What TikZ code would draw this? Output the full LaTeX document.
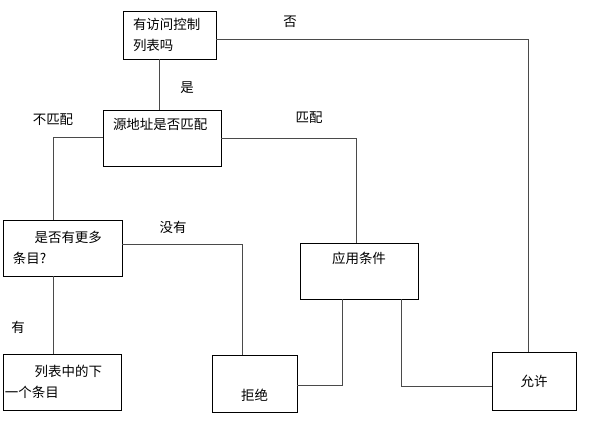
\documentclass[tikz,border=0pt]{standalone}
\usepackage{fontspec}
\setmainfont{Noto Sans CJK SC}
\usetikzlibrary{positioning}
\definecolor{aclInk}{HTML}{000000}
\definecolor{aclWire}{HTML}{4A4A4A}

\begin{document}
\begin{tikzpicture}[
  x=0.03cm,y=-0.03cm,
  font=\fontsize{11.5}{18}\selectfont,
  box/.style={draw=aclInk,line width=0.8pt,inner xsep=0.3cm,inner ysep=0pt,align=left},
  endbox/.style={draw=aclInk,line width=0.8pt,inner sep=0pt,align=center},
  wire/.style={draw=aclWire,line width=0.8pt},
  tag/.style={inner sep=1pt}
]
\useasboundingbox (0,0) rectangle (595,421);

\node[box,text width=2.19cm,minimum height=1.44cm] (acl) at (169.5,35) {有访问控制\\列表吗};
\node[box,text width=2.94cm,minimum height=1.68cm] (src) at (162,138) {源地址是否匹配\\\strut};
\node[box,text width=2.97cm,minimum height=1.68cm] (more) at (62.5,248) {\hspace*{1.6em}是否有更多\\条目?};
\node[box,inner xsep=0.06cm,text width=3.42cm,minimum height=1.68cm] (next) at (62,382) {\hspace*{2.2em}列表中的下\\一个条目};
\node[endbox,minimum width=3.54cm,minimum height=1.68cm] (apply) at (359,271) {应用条件\\\strut};
\node[endbox,minimum width=2.55cm,minimum height=1.71cm] (deny) at (254.5,383.5) {\strut\\拒绝};
\node[endbox,minimum width=2.52cm,minimum height=1.74cm] (permit) at (534,381) {允许};

\node[tag] (no) at (290,22) {否};
\node[tag] (yes) at (187,88) {是};
\node[tag] (nomatch) at (53,120) {不匹配};
\node[tag] (match) at (309,118) {匹配};
\node[tag] (none) at (173,227) {没有};
\node[tag] (has) at (18,327) {有};

\draw[wire] (acl.south -| 159,0) -- (src.north -| 159,0);
\draw[wire] (acl.east |- 0,39) -| (permit.north -| 528,0);
\draw[wire] (src.west |- 0,137) -| (more.north -| 53,0);
\draw[wire] (src.east) -| (apply.north -| 356,0);
\draw[wire] (more.east |- 0,244) -| (deny.north -| 242,0);
\draw[wire] (more.south -| 53,0) -- (next.north -| 53,0);
\draw[wire] (apply.south -| 342,0) |- (deny.east |- 0,385);
\draw[wire] (apply.south -| 401,0) |- (permit.west |- 0,386);
\end{tikzpicture}
\end{document}
